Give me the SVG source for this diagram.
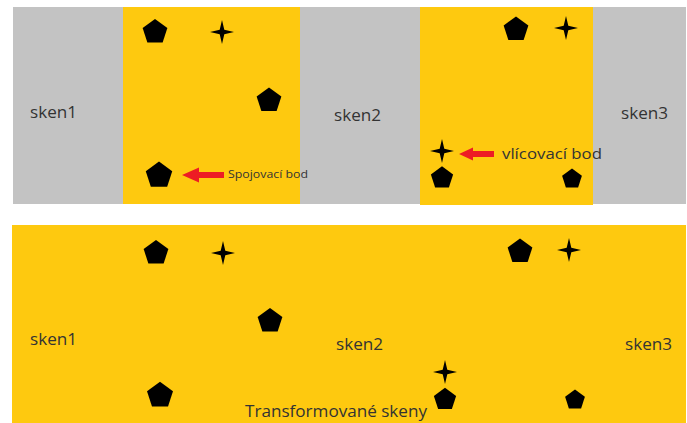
<svg xmlns="http://www.w3.org/2000/svg" xmlns:xlink="http://www.w3.org/1999/xlink" width="687" height="423" viewBox="0 0 687 423">
<style>
.grey{fill:#c3c3c3}
.yel{fill:#fec90f}
.lbl{font-family:"Open Sans","Liberation Sans",Arial,sans-serif;font-size:16px;fill:#333}
.note{font-family:"Open Sans","Liberation Sans",Arial,sans-serif;fill:#333}
.arrow{fill:#ed1c24}
.mark{fill:#000}
</style>
<defs>
<polygon id="pent" points="0,-13 12.36,-4.02 7.64,10.52 -7.64,10.52 -12.36,-4.02"/>
<polygon id="star" points="0,-12 2.3,-2.3 12,0 2.3,2.3 0,12 -2.3,2.3 -12,0 -2.3,-2.3"/>
</defs>
<rect width="687" height="423" fill="#fff"/>
<g id="top-band">
<rect class="grey" x="13" y="7" width="673" height="197"/>
<rect class="yel" x="123" y="7" width="177" height="197"/>
<rect class="yel" x="420" y="7" width="173" height="198"/>
<text class="lbl" x="30" y="118" textLength="47" lengthAdjust="spacingAndGlyphs">sken1</text>
<text class="lbl" x="334" y="121" textLength="47" lengthAdjust="spacingAndGlyphs">sken2</text>
<text class="lbl" x="621" y="119" textLength="47" lengthAdjust="spacingAndGlyphs">sken3</text>
</g>
<g id="bottom-band">
<rect class="yel" x="12" y="225" width="674" height="198"/>
<text class="lbl" x="30" y="345" textLength="47" lengthAdjust="spacingAndGlyphs">sken1</text>
<text class="lbl" x="336" y="350" textLength="47" lengthAdjust="spacingAndGlyphs">sken2</text>
<text class="lbl" x="625" y="350" textLength="47" lengthAdjust="spacingAndGlyphs">sken3</text>
<text class="lbl" x="245" y="417" textLength="182" lengthAdjust="spacingAndGlyphs">Transformované skeny</text>
</g>
<g id="points-top" class="mark">
<use xlink:href="#pent" transform="translate(155,32)"/>
<use xlink:href="#star" transform="translate(222,32)"/>
<use xlink:href="#pent" transform="translate(269,100.5)"/>
<use xlink:href="#pent" transform="translate(159,175.5) scale(1.07)"/>
<use xlink:href="#pent" transform="translate(516,29.5)"/>
<use xlink:href="#star" transform="translate(566,28)"/>
<use xlink:href="#star" transform="translate(442,151)"/>
<use xlink:href="#pent" transform="translate(442,178) scale(0.9)"/>
<use xlink:href="#pent" transform="translate(572,179) scale(0.8)"/>
</g>
<g id="points-bottom" class="mark">
<use xlink:href="#pent" transform="translate(156,253)"/>
<use xlink:href="#star" transform="translate(223,253)"/>
<use xlink:href="#pent" transform="translate(270,321)"/>
<use xlink:href="#pent" transform="translate(160,395.5) scale(1.05)"/>
<use xlink:href="#pent" transform="translate(520,251.5)"/>
<use xlink:href="#star" transform="translate(569,250)"/>
<use xlink:href="#star" transform="translate(445,372)"/>
<use xlink:href="#pent" transform="translate(445,399.5) scale(0.9)"/>
<use xlink:href="#pent" transform="translate(575,400) scale(0.8)"/>
</g>
<g id="connectors">
<polygon class="arrow" points="182,175 199,167.5 199,172 224,172 224,178 199,178 199,182.5"/>
<polygon class="arrow" points="459,154 473,147.5 473,151 494,151 494,157 473,157 473,160.5"/>
</g>
<g id="labels">
<text class="note" x="228" y="178" font-size="11" textLength="80" lengthAdjust="spacingAndGlyphs">Spojovací bod</text>
<text class="note" x="502" y="159" font-size="15" textLength="100" lengthAdjust="spacingAndGlyphs">vlícovací bod</text>
</g>
</svg>
